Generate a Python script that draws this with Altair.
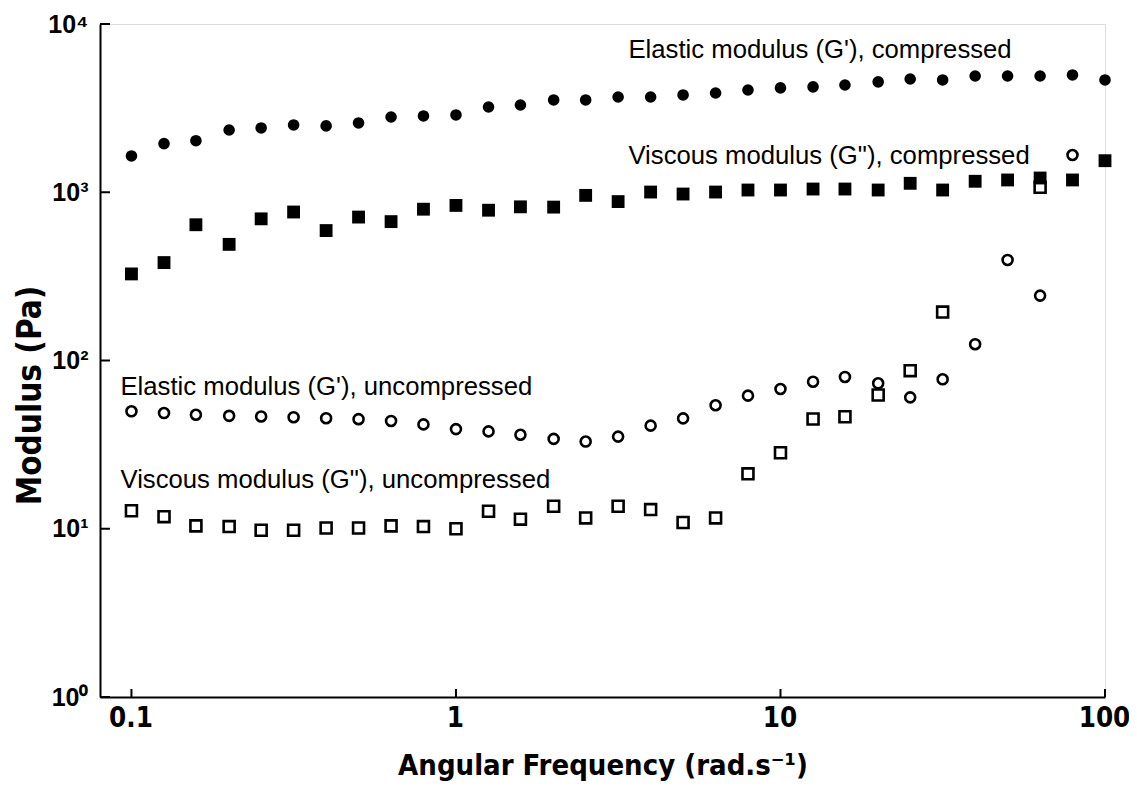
import altair as alt
import pandas as pd

# Angular frequency (rad/s), 10 points per decade
freq = [0.1, 0.126, 0.158, 0.2, 0.251, 0.316, 0.398, 0.501, 0.631, 0.794,
        1.0, 1.26, 1.58, 2.0, 2.51, 3.16, 3.98, 5.01, 6.31, 7.94,
        10.0, 12.6, 15.8, 20.0, 25.1, 31.6, 39.8, 50.1, 63.1, 79.4, 100.0]

# Elastic modulus G', compressed (filled circles)
g1_comp = [1643, 1944, 2025, 2344, 2410, 2512, 2480, 2582, 2801, 2840,
           2879, 3212, 3300, 3535, 3535, 3683, 3683, 3787, 3890, 4053,
           4170, 4230, 4339, 4530, 4711, 4650, 4909, 4909, 4909, 4980, 4650]

# Viscous modulus G'', compressed (filled squares)
g2_comp = [327, 382, 641, 490, 695, 763, 592, 712, 669, 793,
           835, 782, 819, 816, 958, 880, 1003, 976, 1003, 1031,
           1031, 1045, 1045, 1031, 1130, 1031, 1162, 1183, 1215, 1183, 1540]

# Elastic modulus G', uncompressed (open circles), 0.1 .. 79.4
g1_unc = [49.9, 48.7, 47.6, 46.9, 46.5, 46.0, 45.4, 44.8, 43.7, 41.7,
          39.1, 37.9, 36.2, 34.2, 33.0, 35.3, 41.0, 45.3, 54.2, 61.8,
          67.7, 74.8, 79.8, 73.2, 60.4, 77.3, 125, 396, 243, 1665]

# Viscous modulus G'', uncompressed (open squares); None = no point
g2_unc = [12.8, 11.8, 10.4, 10.3, 9.8, 9.8, 10.1, 10.1, 10.4, 10.3,
          10.0, 12.7, 11.4, 13.6, 11.6, 13.6, 13.0, 10.9, 11.6, 21.2,
          28.3, 44.9, 46.3, 62.4, 87.0, 194, None, None, 1070]

# Annotations
ann_text = ["Elastic modulus (G'), compressed",
            'Viscous modulus (G"), compressed',
            "Elastic modulus (G'), uncompressed",
            'Viscous modulus (G"), uncompressed']
ann_x = [3.40, 3.40, 0.0925, 0.0925]
ann_y = [7006, 1643, 69.6, 19.5]

y_ticks = [1, 10, 100, 1000, 10000]
x_ticks = [0.1, 1, 10, 100]

W, H = 1005, 673
FONT = "Liberation Sans"
NARROW = "Liberation Sans Narrow, DejaVu Sans Condensed, Liberation Sans"


def series(vals):
    rows = [{"f": f, "v": v} for f, v in zip(freq, vals) if v is not None]
    return pd.DataFrame(rows)


xs = alt.Scale(type="log", domain=[0.08, 100], nice=False)
ys = alt.Scale(type="log", domain=[1, 10000], nice=False)

x_axis = alt.Axis(values=x_ticks, format="~g", ticks=False, grid=False,
                  domainColor="black", domainWidth=2, labelFlush=False,
                  labelFont=NARROW, labelFontSize=27.5, labelFontWeight="bold",
                  labelColor="black", labelPadding=7, labelOffset=-1,
                  title="Angular Frequency (rad.s⁻¹)", titleFont=NARROW,
                  titleFontSize=29, titleFontWeight="bold", titleColor="black",
                  titlePadding=20)
y_axis = alt.Axis(values=y_ticks, ticks=False, grid=False, labelFlush=False,
                  labelExpr="'10' + ['⁰','¹','²','³','⁴'][round(log(datum.value)/LN10)]",
                  domainColor="black", domainWidth=2,
                  labelFont=FONT, labelFontSize=25, labelFontWeight="bold",
                  labelColor="black", labelPadding=12,
                  title="Modulus (Pa)", titleFont=NARROW, titleFontSize=33,
                  titleFontWeight="bold", titleColor="black",
                  titleX=-70, titleY=371, titleAlign="center", titleBaseline="middle",
                  titleAngle=270)

X = alt.X("f:Q", scale=xs)
Y = alt.Y("v:Q", scale=ys)

pts_c1 = alt.Chart(series(g1_comp)).mark_point(
    shape="circle", filled=True, color="black", size=135, opacity=1
).encode(x=alt.X("f:Q", scale=xs, axis=x_axis), y=alt.Y("v:Q", scale=ys, axis=y_axis))

pts_c2 = alt.Chart(series(g2_comp)).mark_point(
    shape="square", filled=True, color="black", size=165, opacity=1
).encode(x=X, y=Y)

pts_u1 = alt.Chart(series(g1_unc)).mark_point(
    shape="circle", filled=False, color="black", size=100, strokeWidth=2.6, opacity=1
).encode(x=X, y=Y)

pts_u2 = alt.Chart(series(g2_unc)).mark_point(
    shape="square", filled=False, color="black", size=120, strokeWidth=2.6, opacity=1
).encode(x=X, y=Y)

ann_df = pd.DataFrame({"t": ann_text, "f": ann_x, "v": ann_y})
labels = alt.Chart(ann_df).mark_text(
    align="left", baseline="middle", font=FONT, fontSize=25.7, color="black"
).encode(x=X, y=Y, text="t:N")

yt = alt.Chart(pd.DataFrame({"v": y_ticks})).mark_rule(color="black", strokeWidth=2).encode(
    y=Y, x=alt.value(0), x2=alt.value(10))
xt = alt.Chart(pd.DataFrame({"f": x_ticks})).mark_rule(color="black", strokeWidth=2).encode(
    x=X, y=alt.value(H - 8), y2=alt.value(H))

chart = alt.layer(pts_c1, pts_c2, pts_u1, pts_u2, labels, yt, xt).properties(
    width=W, height=H,
    autosize=alt.AutoSizeParams(type="none"),
    padding={"left": 92, "top": 16, "right": 24, "bottom": 84},
).configure_view(stroke="transparent", strokeWidth=0).configure(background="white")

chart.save("out.html", embed_options={"renderer": "svg", "actions": False})
